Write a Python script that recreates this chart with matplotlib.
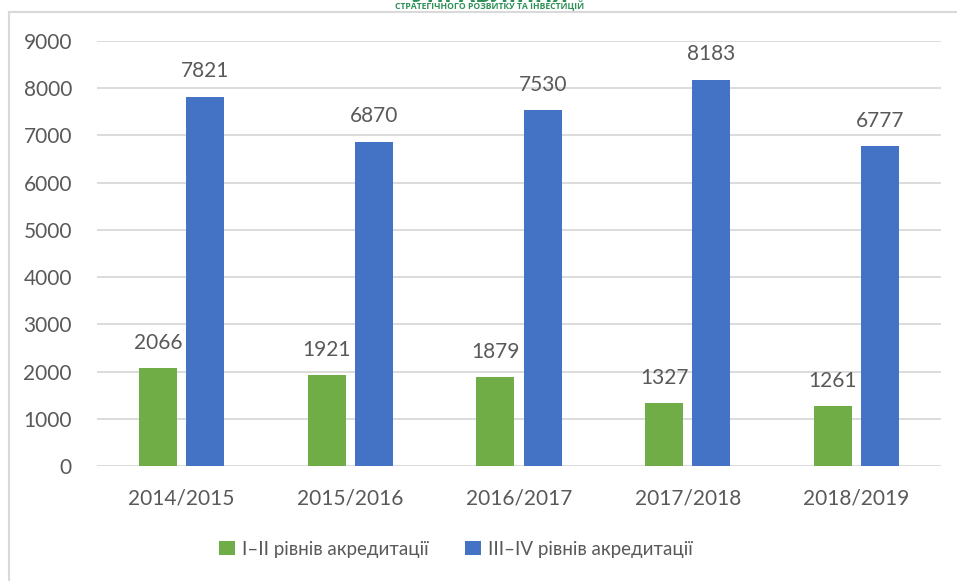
import numpy as np
import matplotlib.pyplot as plt
from matplotlib.lines import Line2D

# chart data
years = ['2014/2015', '2015/2016', '2016/2017', '2017/2018', '2018/2019']
level_1_2 = [2066, 1921, 1879, 1327, 1261]
level_3_4 = [7821, 6870, 7530, 8183, 6777]
series_names = ['I–II рівнів акредитації', 'III–IV рівнів акредитації']

green = '#70ad47'
blue = '#4472c4'
text_gray = '#595959'
grid_gray = '#d9d9d9'

plt.rcParams['font.family'] = ['Lato', 'DejaVu Sans']

fig = plt.figure(figsize=(9.57, 5.81), dpi=100)
ax = fig.add_axes([97 / 957, 1 - 466 / 581, (941 - 97) / 957, (466 - 41) / 581])

x = np.arange(len(years))
w = 0.225
off = 0.14
b1 = ax.bar(x - off, level_1_2, w, color=green, label=series_names[0], zorder=3)
b2 = ax.bar(x + off, level_3_4, w, color=blue, label=series_names[1], zorder=3)
ax.bar_label(b1, padding=11, fontsize=15, color=text_gray)
ax.bar_label(b2, padding=11, fontsize=15, color=text_gray)

ax.set_xlim(-0.5, len(years) - 0.5)
ax.set_ylim(0, 9000)
ax.set_yticks(range(0, 9001, 1000))
ax.set_xticks(x)
ax.set_xticklabels(years)
ax.tick_params(axis='both', length=0, labelsize=15, labelcolor=text_gray)
ax.tick_params(axis='y', pad=18)
ax.tick_params(axis='x', pad=16)
ax.grid(axis='y', color=grid_gray, linewidth=1.3, zorder=0)
for s in ax.spines.values():
    s.set_visible(False)

fig.legend(loc='center', bbox_to_anchor=(456 / 957, 1 - 549 / 581), ncol=2,
           frameon=False, fontsize=13.5, labelcolor=text_gray, handlelength=0.85,
           handleheight=0.85, handletextpad=0.4, columnspacing=1.9)

# chart border (only left and top visible in the crop)
fig.add_artist(Line2D([9 / 957, 9 / 957], [0, 1 - 12 / 581], color=grid_gray, lw=1.5))
fig.add_artist(Line2D([9 / 957, 1], [1 - 12 / 581, 1 - 12 / 581], color=grid_gray, lw=1.5))

# watermark at the top, its heading cut off by the crop as in the source
fig.text(490 / 957, 1 - 6 / 581, 'СТРАТЕГІЧНОГО РОЗВИТКУ ТА ІНВЕСТИЦІЙ', ha='center', va='center',
         fontsize=6.2, fontweight='bold', color='#2f9158', family=['Open Sans', 'DejaVu Sans'])
fig.text(490 / 957, 1 + 4 / 581, 'УПРАВЛІННЯ', ha='center', va='center',
         fontsize=17, fontweight='bold', color='#2f9158', family=['Open Sans', 'DejaVu Sans'])

fig.savefig('out.png', dpi=100)
